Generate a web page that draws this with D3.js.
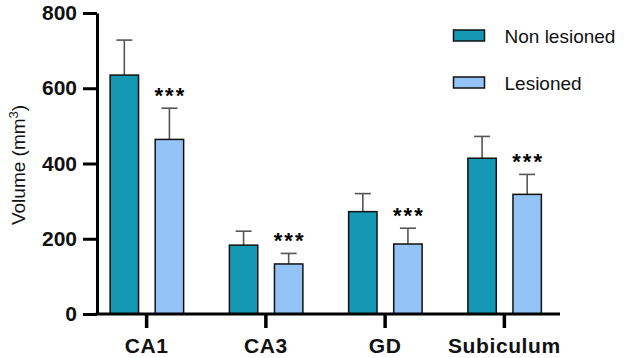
<!DOCTYPE html>
<html>
<head>
<meta charset="utf-8">
<script src="https://cdn.jsdelivr.net/npm/d3@7"></script>
<style>
  body { margin: 0; background: #fff; }
  text { font-family: "Liberation Sans", Arial, sans-serif; }
</style>
</head>
<body>
<div id="chart"></div>
<script>
// ---- data ----
const regions = ["CA1", "CA3", "GD", "Subiculum"];
const groups = ["Non lesioned", "Lesioned"];
const nonLesioned = [635, 183, 272, 414];
const nonLesionedErr = [93, 37, 48, 58];
const lesioned = [464, 133, 186, 318];
const lesionedErr = [83, 28, 42, 53];
const signif = ["***", "***", "***", "***"];
const yTicks = [0, 200, 400, 600, 800];

const colors = { "Non lesioned": "#1598b3", "Lesioned": "#94c3f7" };

const W = 624, H = 358;
const svg = d3.select("#chart").append("svg")
    .attr("width", W).attr("height", H);

// scales
const y = d3.scaleLinear().domain([0, 800]).range([314, 13]);
const x0 = d3.scaleBand().domain(regions).range([87, 564]);
const x1 = d3.scaleBand().domain(groups).range([-36.5, 37]).paddingInner(0.37);

// flatten to one row per bar
const rows = [];
regions.forEach((r, i) => {
    rows.push({ region: r, group: "Non lesioned", value: nonLesioned[i], err: nonLesionedErr[i], star: "" });
    rows.push({ region: r, group: "Lesioned", value: lesioned[i], err: lesionedErr[i], star: signif[i] });
});
const cx = d => x0(d.region) + x0.bandwidth() / 2 + x1(d.group) + x1.bandwidth() / 2;

// error bars (upper only), drawn first so bars cover the stem
const eb = svg.append("g").attr("stroke", "#555").attr("stroke-width", 1.6).attr("fill", "none");
eb.selectAll("line.stem").data(rows).join("line")
    .attr("x1", cx).attr("x2", cx)
    .attr("y1", d => y(d.value)).attr("y2", d => y(d.value + d.err));
eb.selectAll("line.cap").data(rows).join("line")
    .attr("x1", d => cx(d) - 8).attr("x2", d => cx(d) + 8)
    .attr("y1", d => y(d.value + d.err)).attr("y2", d => y(d.value + d.err));

// bars
svg.append("g").selectAll("rect").data(rows).join("rect")
    .attr("x", d => cx(d) - x1.bandwidth() / 2)
    .attr("y", d => y(d.value))
    .attr("width", x1.bandwidth())
    .attr("height", d => y(0) - y(d.value))
    .attr("fill", d => colors[d.group])
    .attr("stroke", "#111")
    .attr("stroke-width", 1.5);

// significance stars
svg.append("g").selectAll("text").data(rows.filter(d => d.star)).join("text")
    .attr("x", d => cx(d) + 1)
    .attr("y", d => y(d.value + d.err) - 5)
    .attr("text-anchor", "middle")
    .attr("font-size", 22).attr("font-weight", "bold")
    .attr("letter-spacing", 2)
    .text(d => d.star);

// y axis
const yAxis = svg.append("g")
    .attr("transform", "translate(97,0)")
    .call(d3.axisLeft(y).tickValues(yTicks).tickSize(14).tickSizeOuter(0).tickPadding(6));
yAxis.selectAll("path, line").attr("stroke", "#000").attr("stroke-width", 3);
yAxis.selectAll("text").attr("font-size", 21).attr("font-weight", "bold").attr("fill", "#111")
    .attr("font-family", "Liberation Sans, Arial, sans-serif");

// x axis
const xAxis = svg.append("g")
    .attr("transform", "translate(0,314)")
    .call(d3.axisBottom(x0).tickSize(14).tickSizeOuter(0).tickPadding(10));
xAxis.select(".domain").remove();
xAxis.selectAll("line").attr("stroke", "#000").attr("stroke-width", 3.5);
xAxis.selectAll("text").attr("font-size", 21).attr("font-weight", "bold").attr("fill", "#111")
    .attr("letter-spacing", 0.6)
    .attr("font-family", "Liberation Sans, Arial, sans-serif");
svg.append("line")
    .attr("x1", 95.5).attr("x2", 560)
    .attr("y1", y(0)).attr("y2", y(0))
    .attr("stroke", "#000").attr("stroke-width", 3);

// y axis title
svg.append("text")
    .attr("transform", "translate(25,165) rotate(-90)")
    .attr("text-anchor", "middle")
    .attr("font-size", 19)
    .attr("fill", "#111")
    .html('Volume (mm<tspan dy="-7" font-size="13">3</tspan><tspan dy="7">)</tspan>');

// legend
const leg = svg.append("g").selectAll("g").data(groups).join("g")
    .attr("transform", (d, i) => `translate(453.5,${30 + i * 47})`);
leg.append("rect")
    .attr("width", 31).attr("height", 11)
    .attr("fill", d => colors[d]).attr("stroke", "#111").attr("stroke-width", 1.5);
leg.append("text")
    .attr("x", 51).attr("y", 12.5)
    .attr("font-size", 19).attr("fill", "#111")
    .text(d => d);
</script>
</body>
</html>
